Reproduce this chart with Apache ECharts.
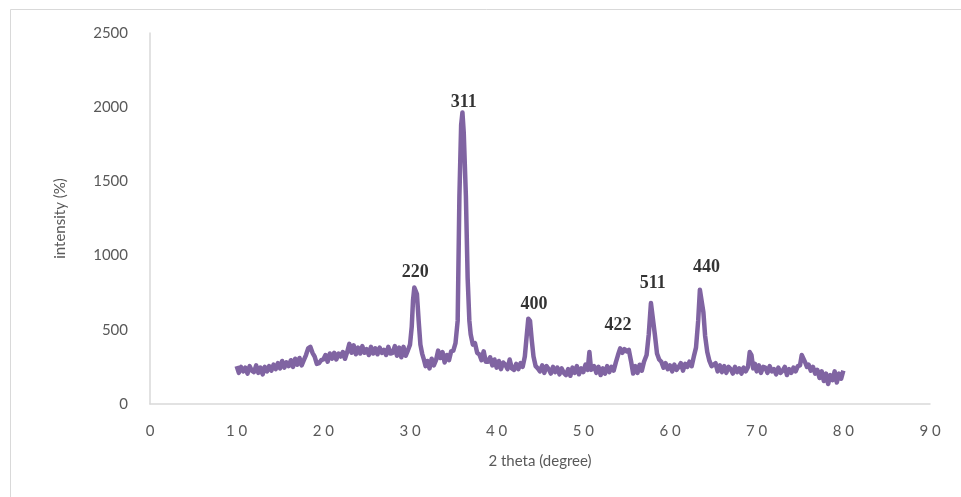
<!DOCTYPE html>
<html>
<head>
<meta charset="utf-8">
<script src="https://cdn.jsdelivr.net/npm/echarts@6/dist/echarts.min.js"></script>
<style>html,body{margin:0;padding:0;background:#fff;}#c{width:961px;height:497px;}</style>
</head>
<body>
<div id="c"></div>
<script>
var twoTheta = [
  10,10.25,10.5,10.75, 11,11.25,11.5,11.75, 12,12.25,12.5,12.75, 13,13.25,13.5,13.75,
  14,14.25,14.5,14.75, 15,15.25,15.5,15.75, 16,16.25,16.5,16.75, 17,17.25,17.5,17.75,
  18,18.25,18.5,18.75, 19,19.25,19.5,19.75, 20,20.25,20.5,20.75, 21,21.25,21.5,21.75,
  22,22.25,22.5,22.75, 23,23.25,23.5,23.75, 24,24.25,24.5,24.75, 25,25.25,25.5,25.75,
  26,26.25,26.5,26.75, 27,27.25,27.5,27.75, 28,28.25,28.5,28.75, 29,29.25,29.5,29.75,
  30,30.2,30.35,30.5,30.65,30.8,31,31.2,31.4,31.6,31.8,
  32,32.25,32.5,32.75, 33,33.25,33.5,33.75, 34,34.25,34.5,34.75,
  35,35.25,35.5,35.7,35.9,36.05,36.2,36.45,36.65,36.85,37,37.25,37.5,37.75,
  38,38.25,38.5,38.75, 39,39.25,39.5,39.75, 40,40.25,40.5,40.75, 41,41.25,41.5,41.75,
  42,42.25,42.5,42.75,
  43,43.25,43.45,43.65,43.85,44.05,44.25,44.5,44.75,
  45,45.25,45.5,45.75, 46,46.25,46.5,46.75, 47,47.25,47.5,47.75, 48,48.25,48.5,48.75,
  49,49.25,49.5,49.75, 50,50.25,50.5,50.7,50.9,
  51,51.25,51.5,51.75, 52,52.25,52.5,52.75, 53,53.25,53.5,53.75,
  54,54.25,54.5,54.75,55,55.25,55.5,55.75,
  56,56.25,56.5,56.75,
  57,57.3,57.55,57.8,58,58.25,58.5,58.75,
  59,59.25,59.5,59.75, 60,60.25,60.5,60.75, 61,61.25,61.5,61.75, 62,62.25,62.5,
  62.75,63,63.25,63.45,63.65,63.85,64.05,64.3,64.55,64.8,
  65,65.25,65.5,65.75, 66,66.25,66.5,66.75, 67,67.25,67.5,67.75, 68,68.25,68.5,68.75,
  69,69.2,69.4,69.6,69.8,
  70,70.25,70.5,70.75, 71,71.25,71.5,71.75, 72,72.25,72.5,72.75, 73,73.25,73.5,73.75,
  74,74.25,74.5,74.75,
  75,75.2,75.4,75.6,75.8,
  76,76.25,76.5,76.75, 77,77.25,77.5,77.75, 78,78.25,78.5,78.75, 79,79.25,79.5,79.75,
  80
];
var intensity = [
  255,210,250,220, 245,205,255,225, 215,260,210,245, 200,250,220,255,
  225,265,235,275, 240,290,245,280, 255,295,250,305, 265,310,260,295,
  330,375,385,345, 320,270,275,295, 300,330,285,340, 305,345,300,340,
  320,350,305,350, 405,345,395,335, 380,340,390,345, 370,330,385,340,
  375,335,380,345, 365,330,385,340, 345,390,325,380, 315,385,325,360,
  400,520,700,785,795,740,560,400,340,300,255,
  290,240,305,260, 295,360,310,350, 280,330,295,355,
  360,410,560,1400,1880,1965,1830,1400,850,560,470,400,410,345,
  335,295,355,285, 285,315,260,300, 245,290,235,280, 265,235,300,240,
  230,270,235,275,
  250,320,450,575,560,430,320,255,240,
  220,260,210,255, 235,205,250,215, 245,200,240,210, 195,235,190,245,
  210,255,200,240, 215,265,230,350,230,
  220,255,210,250, 195,240,205,255, 215,250,225,280,
  330,375,345,370,355,365,290,205,
  255,210,265,225,
  285,330,470,680,680,470,340,300,
  285,245,275,235, 260,220,265,230, 250,275,225,270, 250,285,255,
  320,380,560,770,775,620,460,350,290,255,
  245,275,220,260, 215,255,210,250, 235,205,250,215, 240,205,245,220,
  250,350,330,240,270,
  220,260,210,250, 245,210,255,220, 235,200,245,210, 225,250,195,235,
  210,245,220,255,
  260,330,340,280,250,
  265,225,250,205, 230,175,220,155, 205,135,195,160, 220,145,205,170,
  225
];
var peakLabels = ['220','311','400','422','511','440'];
var peakLabelX = [30.6, 36.2, 44.3, 54.0, 58.0, 64.2];
var peakLabelY = [890, 2035, 670, 530, 815, 923];
var xTicks = [0,10,20,30,40,50,60,70,80,90];
var yTicks = [0,500,1000,1500,2000,2500];

var lineData = twoTheta.map(function(x,i){return [x, intensity[i]];});
var labelData = peakLabels.map(function(t,i){return {value:[peakLabelX[i], peakLabelY[i]], name:t};});

var chart = echarts.init(document.getElementById('c'));
var axisFont = {color:'#595959', fontFamily:'Lato, "Open Sans", sans-serif', fontSize:15};
chart.setOption({
  animation:false,
  backgroundColor:'#fff',
  graphic:[{type:'rect', shape:{x:10.5,y:9.5,width:1000,height:600}, style:{fill:'none', stroke:'#d9d9d9', lineWidth:1}, silent:true}],
  grid:{left:150, right:31, top:33, bottom:93},
  xAxis:{
    type:'value', min:xTicks[0], max:xTicks[xTicks.length-1], interval:10,
    name:'2 theta (degree)', nameLocation:'middle', nameGap:50,
    nameTextStyle:{color:'#595959', fontFamily:'Lato, sans-serif', fontSize:15},
    axisLine:{show:true, lineStyle:{color:'#d9d9d9', width:1.5}},
    axisTick:{show:false},
    splitLine:{show:false},
    axisLabel:Object.assign({margin:20, formatter:function(v){return String(v).split('').join(' ');}}, axisFont)
  },
  yAxis:{
    type:'value', min:yTicks[0], max:yTicks[yTicks.length-1], interval:500,
    name:'intensity (%)', nameLocation:'middle', nameGap:82, nameRotate:90,
    nameTextStyle:{color:'#595959', fontFamily:'Lato, sans-serif', fontSize:15},
    axisLine:{show:true, lineStyle:{color:'#d9d9d9', width:1.5}},
    axisTick:{show:false},
    splitLine:{show:false},
    axisLabel:Object.assign({margin:22, formatter:function(v){return String(v);}}, axisFont)
  },
  series:[
    {type:'line', data:lineData, showSymbol:false, symbol:'none',
     lineStyle:{color:'#8064A2', width:4.5, join:'round'}},
    {type:'scatter', data:labelData, symbolSize:1, itemStyle:{color:'rgba(0,0,0,0)'},
     label:{show:true, position:'inside', formatter:function(p){return p.name;},
            color:'#000', fontFamily:'"Liberation Serif", "DejaVu Serif", serif', fontWeight:'bold', fontSize:18}}
  ]
});
</script>
</body>
</html>
